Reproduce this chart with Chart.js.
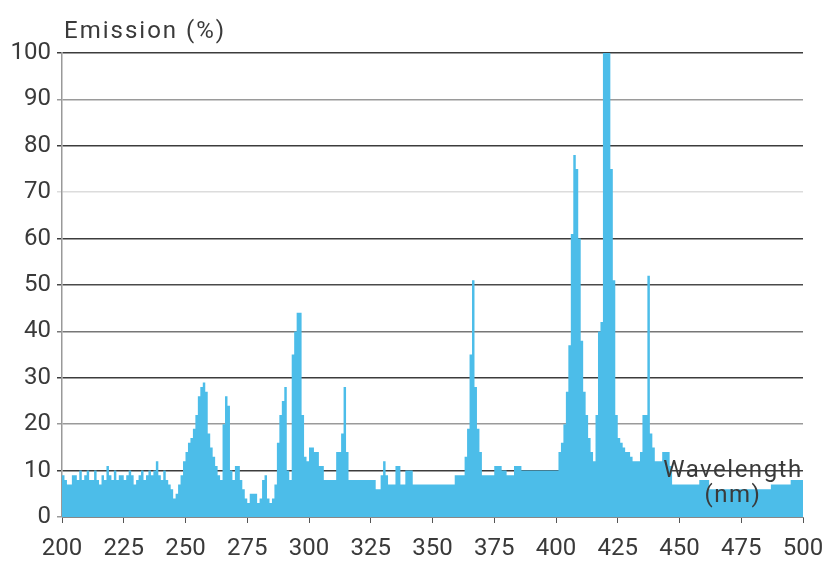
<!DOCTYPE html>
<html>
<head>
<meta charset="utf-8">
<script src="https://cdn.jsdelivr.net/npm/chart.js@4/dist/chart.umd.min.js"></script>
<style>
  html, body { margin: 0; padding: 0; background: #fff; }
  #wrap { width: 826px; height: 561px; position: relative; }
</style>
</head>
<body>
<div id="wrap"><canvas id="spectrum"></canvas></div>
<script>
// Emission spectrum, 1 nm steps from 200 to 499 nm

var startNm = 200;
var emission = [
  9, 8, 7, 7, 9, 9, 8, 10, 8, 9,          // 200
  10, 8, 8, 10, 8, 7, 9, 8, 11, 9,        // 210
  8, 10, 8, 9, 9, 8, 9, 10, 9, 7,         // 220
  8, 9, 10, 8, 9, 10, 9, 10, 12, 9,       // 230
  8, 10, 8, 7, 6, 4, 5, 7, 9, 12,         // 240
  14, 16, 17, 19, 22, 26, 28, 29, 27, 18, // 250
  15, 13, 11, 9, 8, 20, 26, 24, 10, 8,    // 260
  11, 11, 8, 6, 4, 3, 5, 5, 5, 3,         // 270
  4, 8, 9, 4, 3, 4, 7, 16, 22, 25,        // 280
  28, 10, 8, 35, 40, 44, 44, 22, 13, 12,  // 290
  15, 15, 14, 14, 11, 11, 8, 8, 8, 8,     // 300
  8, 14, 14, 18, 28, 14, 8, 8, 8, 8,      // 310
  8, 8, 8, 8, 8, 8, 8, 6, 6, 9,           // 320
  12, 9, 7, 7, 7, 11, 11, 7, 7, 10,       // 330
  10, 10, 7, 7, 7, 7, 7, 7, 7, 7,         // 340
  7, 7, 7, 7, 7, 7, 7, 7, 7, 9,           // 350
  9, 9, 9, 13, 19, 35, 51, 28, 19, 14,    // 360
  9, 9, 9, 9, 9, 11, 11, 11, 10, 10,      // 370
  9, 9, 9, 11, 11, 11, 10, 10, 10, 10,    // 380
  10, 10, 10, 10, 10, 10, 10, 10, 10, 10, // 390
  10, 14, 16, 20, 27, 37, 61, 78, 75, 60, // 400
  38, 27, 22, 17, 14, 12, 22, 40, 42, 100,// 410
  100, 100, 75, 51, 22, 17, 16, 15, 14, 14, // 420
  13, 12, 12, 12, 14, 22, 22, 52, 18, 15, // 430
  12, 12, 12, 14, 14, 14, 11, 7, 7, 7,    // 440
  7, 7, 7, 7, 7, 7, 7, 7, 8, 8,           // 450
  8, 8, 6, 6, 6, 6, 6, 6, 6, 6,           // 460
  6, 6, 6, 6, 6, 6, 6, 6, 6, 6,           // 470
  6, 6, 6, 6, 6, 6, 6, 7, 7, 7,           // 480
  7, 7, 7, 7, 7, 8, 8, 8, 8, 8            // 490
];

var xTicks = [200, 225, 250, 275, 300, 325, 350, 375, 400, 425, 450, 475, 500];
var yTicks = [0, 10, 20, 30, 40, 50, 60, 70, 80, 90, 100];
var yTitle = 'Emission (%)';
var xTitle = ['Wavelength', '(nm)'];

// grid lines in the original are not all the same shade
var gridShade = {
  100: '#3c3c3c', 90: '#9a9a9a', 80: '#3c3c3c', 70: '#dcdcdc', 60: '#3c3c3c',
  50: '#4a4a4a', 40: '#777777', 30: '#3c3c3c', 20: '#9a9a9a', 10: '#3c3c3c', 0: '#9a9a9a'
};

var points = emission.map(function (v, i) {
  return { x: startNm + i, y: v };
});
// close the last 1 nm step at the right edge
points.push({ x: startNm + emission.length, y: emission[emission.length - 1] });

var fontFamily = 'Roboto, "DejaVu Sans", sans-serif';
var textColor = '#3a3a3a';

var labelsPlugin = {
  id: 'axisTexts',
  afterDatasetsDraw: function (chart) {
    var ctx = chart.ctx;
    var area = chart.chartArea;
    ctx.save();
    ctx.fillStyle = textColor;
    ctx.font = '24px ' + fontFamily;
    ctx.textBaseline = 'alphabetic';
    ctx.letterSpacing = '2px';
    ctx.textAlign = 'left';
    ctx.fillText(yTitle, area.left + 2, 38);
    ctx.letterSpacing = '1.5px';
    ctx.textAlign = 'center';
    ctx.fillText(xTitle[0], 733, 477);
    ctx.fillText(xTitle[1], 733, 502);
    ctx.restore();
  }
};

new Chart(document.getElementById('spectrum'), {
  type: 'line',
  data: {
    datasets: [{
      label: 'Emission',
      data: points,
      stepped: true,
      fill: 'origin',
      backgroundColor: '#4cbde9',
      borderColor: '#4cbde9',
      borderWidth: 0,
      pointRadius: 0
    }]
  },
  options: {
    responsive: true,
    maintainAspectRatio: false,
    animation: false,
    layout: {
      padding: { top: 53, right: 23, left: 0, bottom: 0 }
    },
    plugins: {
      legend: { display: false },
      tooltip: { enabled: false }
    },
    scales: {
      x: {
        type: 'linear',
        min: 200,
        max: 500,
        afterBuildTicks: function (scale) {
          scale.ticks = xTicks.map(function (v) { return { value: v }; });
        },
        afterFit: function (scale) {
          scale.height = 44;
          scale.paddingLeft = 0;
          scale.paddingRight = 0;
        },
        grid: {
          drawOnChartArea: false,
          drawTicks: true,
          tickLength: 6,
          color: '#555'
        },
        border: { display: true, color: '#888', width: 1 },
        ticks: {
          padding: 12,
          maxRotation: 0,
          autoSkip: false,
          color: textColor,
          font: { family: fontFamily, size: 24 }
        }
      },
      y: {
        min: 0,
        max: 100,
        afterBuildTicks: function (scale) {
          scale.ticks = yTicks.map(function (v) { return { value: v }; });
        },
        afterFit: function (scale) {
          scale.width = 62;
          scale.paddingTop = 0;
          scale.paddingBottom = 0;
        },
        grid: {
          tickLength: 5,
          lineWidth: 1.5,
          color: function (c) { return gridShade[c.tick.value] || '#888'; }
        },
        border: { display: true, color: '#999', width: 1.5 },
        ticks: {
          padding: 6,
          color: textColor,
          font: { family: fontFamily, size: 24 }
        }
      }
    }
  },
  plugins: [labelsPlugin]
});
</script>
</body>
</html>
